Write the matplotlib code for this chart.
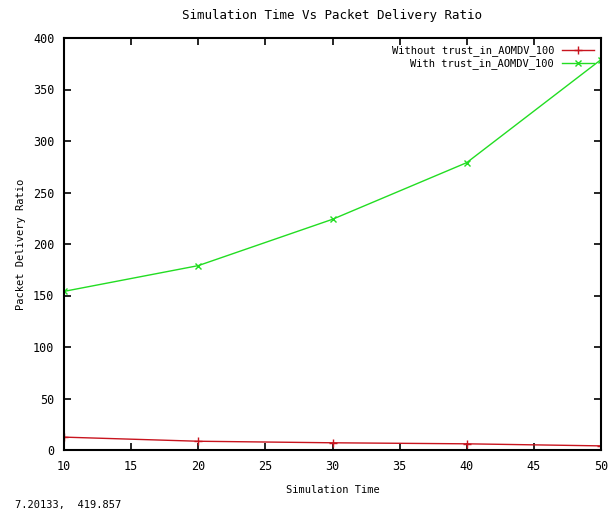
import matplotlib
matplotlib.use("Agg")
import matplotlib.pyplot as plt

# values
sim_time = [10, 20, 30, 40, 50]
without_trust = [12.5, 8.5, 7.0, 6.0, 4.0]
with_trust = [154, 179, 224, 279, 379]

plt.rcParams["font.family"] = "DejaVu Sans Mono"
plt.rcParams["font.size"] = 7.5

fig = plt.figure(figsize=(6.16, 5.13), dpi=100)
ax = fig.add_axes([64 / 616, 1 - 450 / 513, (601 - 64) / 616, (450 - 38) / 513])

ax.plot(sim_time, without_trust, color="#c8141e", lw=1, marker="+", ms=6,
        label="Without trust_in_AOMDV_100")
ax.plot(sim_time, with_trust, color="#22dd22", lw=1, marker="x", ms=5,
        label="With trust_in_AOMDV_100")

ax.set_xlim(10, 50)
ax.set_ylim(0, 400)
ax.set_xticks(range(10, 51, 5))
ax.set_yticks(range(0, 401, 50))
ax.tick_params(direction="in", top=True, right=True, length=5, width=1.2,
               pad=7, labelsize=8.5)
for s in ax.spines.values():
    s.set_linewidth(1.5)

ax.set_title("Simulation Time Vs Packet Delivery Ratio", pad=14)
ax.set_xlabel("Simulation Time", labelpad=9)
ax.set_ylabel("Packet Delivery Ratio", labelpad=5)

ax.legend(loc="upper right", frameon=False, markerfirst=False, handlelength=3,
          borderaxespad=0.3, labelspacing=0.2)

# gnuplot mouse-coordinate readout at the bottom
fig.text(15 / 616, 1 - 505 / 513, "7.20133,  419.857", fontsize=7.5, va="center")

fig.savefig("out.png", dpi=100)
